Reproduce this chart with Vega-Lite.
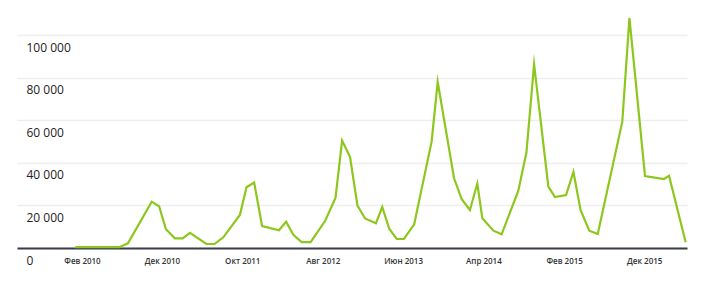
{
  "$schema": "https://vega.github.io/schema/vega-lite/v6.json",
  "width": 670,
  "height": 234,
  "autosize": {"type": "none"},
  "padding": {"left": 17, "top": 14, "right": 15, "bottom": 39},
  "background": "white",
  "config": {"view": {"stroke": null}, "font": "Open Sans"},
  "data": {
    "values": [
      {"date": "2010-01-07", "v": 400},
      {"date": "2010-06-23", "v": 400},
      {"date": "2010-07-25", "v": 2200},
      {"date": "2010-10-23", "v": 21770},
      {"date": "2010-11-20", "v": 19600},
      {"date": "2010-12-16", "v": 8800},
      {"date": "2011-01-19", "v": 4560},
      {"date": "2011-02-17", "v": 4560},
      {"date": "2011-03-17", "v": 7150},
      {"date": "2011-05-18", "v": 1880},
      {"date": "2011-06-18", "v": 1880},
      {"date": "2011-07-21", "v": 5030},
      {"date": "2011-09-22", "v": 15500},
      {"date": "2011-10-17", "v": 28540},
      {"date": "2011-11-15", "v": 30800},
      {"date": "2011-12-15", "v": 10340},
      {"date": "2012-02-17", "v": 8320},
      {"date": "2012-03-15", "v": 12360},
      {"date": "2012-04-12", "v": 6110},
      {"date": "2012-05-13", "v": 2730},
      {"date": "2012-06-16", "v": 2730},
      {"date": "2012-08-10", "v": 12790},
      {"date": "2012-09-18", "v": 23510},
      {"date": "2012-10-13", "v": 50500},
      {"date": "2012-11-12", "v": 42900},
      {"date": "2012-12-10", "v": 19980},
      {"date": "2013-01-08", "v": 13870},
      {"date": "2013-02-18", "v": 11610},
      {"date": "2013-03-14", "v": 19280},
      {"date": "2013-04-10", "v": 8930},
      {"date": "2013-05-08", "v": 4230},
      {"date": "2013-06-04", "v": 4230},
      {"date": "2013-07-13", "v": 11140},
      {"date": "2013-09-17", "v": 49980},
      {"date": "2013-10-10", "v": 78040},
      {"date": "2013-12-11", "v": 32770},
      {"date": "2014-01-09", "v": 22900},
      {"date": "2014-02-09", "v": 17870},
      {"date": "2014-03-09", "v": 30320},
      {"date": "2014-03-28", "v": 13960},
      {"date": "2014-05-09", "v": 8130},
      {"date": "2014-06-09", "v": 6440},
      {"date": "2014-08-11", "v": 26800},
      {"date": "2014-09-11", "v": 44900},
      {"date": "2014-10-10", "v": 86270},
      {"date": "2014-12-03", "v": 28820},
      {"date": "2014-12-28", "v": 23980},
      {"date": "2015-02-08", "v": 24920},
      {"date": "2015-03-08", "v": 35730},
      {"date": "2015-04-04", "v": 17870},
      {"date": "2015-05-07", "v": 8130},
      {"date": "2015-06-08", "v": 6580},
      {"date": "2015-09-09", "v": 59380},
      {"date": "2015-10-06", "v": 108130},
      {"date": "2015-12-04", "v": 33850},
      {"date": "2016-02-14", "v": 32440},
      {"date": "2016-03-04", "v": 33990},
      {"date": "2016-05-06", "v": 2680}
    ]
  },
  "mark": {
    "type": "line",
    "color": "#8dc71e",
    "strokeWidth": 2.2,
    "strokeJoin": "miter",
    "strokeMiterLimit": 10
  },
  "encoding": {
    "x": {
      "field": "date",
      "type": "temporal",
      "scale": {
        "type": "utc",
        "domain": [
          {"year": 2009, "month": 5, "date": 31, "utc": true},
          {"year": 2016, "month": 5, "date": 11, "utc": true}
        ]
      },
      "axis": {
        "values": [
          {"year": 2010, "month": 2, "date": 1, "utc": true},
          {"year": 2010, "month": 12, "date": 1, "utc": true},
          {"year": 2011, "month": 10, "date": 1, "utc": true},
          {"year": 2012, "month": 8, "date": 1, "utc": true},
          {"year": 2013, "month": 6, "date": 1, "utc": true},
          {"year": 2014, "month": 4, "date": 1, "utc": true},
          {"year": 2015, "month": 2, "date": 1, "utc": true},
          {"year": 2015, "month": 12, "date": 1, "utc": true}
        ],
        "labelExpr": "['Янв','Фев','Мар','Апр','Май','Июн','Июл','Авг','Сен','Окт','Ноя','Дек'][utcmonth(datum.value)] + ' ' + utcyear(datum.value)",
        "title": null,
        "grid": false,
        "ticks": false,
        "tickSize": 0,
        "domainColor": "#3b3b4a",
        "domainWidth": 2,
        "labelFontSize": 8,
        "labelFontWeight": 600,
        "labelColor": "#333333",
        "labelPadding": 9,
        "labelOverlap": false,
        "labelFlush": false
      }
    },
    "y": {
      "field": "v",
      "type": "quantitative",
      "scale": {"domain": [0, 110000], "nice": false},
      "axis": {
        "values": [0, 20000, 40000, 60000, 80000, 100000],
        "labelExpr": "datum.value == 0 ? '0' : (datum.value / 1000) + ' 000'",
        "title": null,
        "domain": false,
        "ticks": false,
        "tickSize": 0,
        "gridColor": "#eeeeee",
        "gridWidth": 1.5,
        "labelAlign": "left",
        "labelBaseline": "middle",
        "labelPadding": -9,
        "labelOffset": 12,
        "labelFontSize": 12,
        "labelColor": "#222222"
      }
    }
  }
}
